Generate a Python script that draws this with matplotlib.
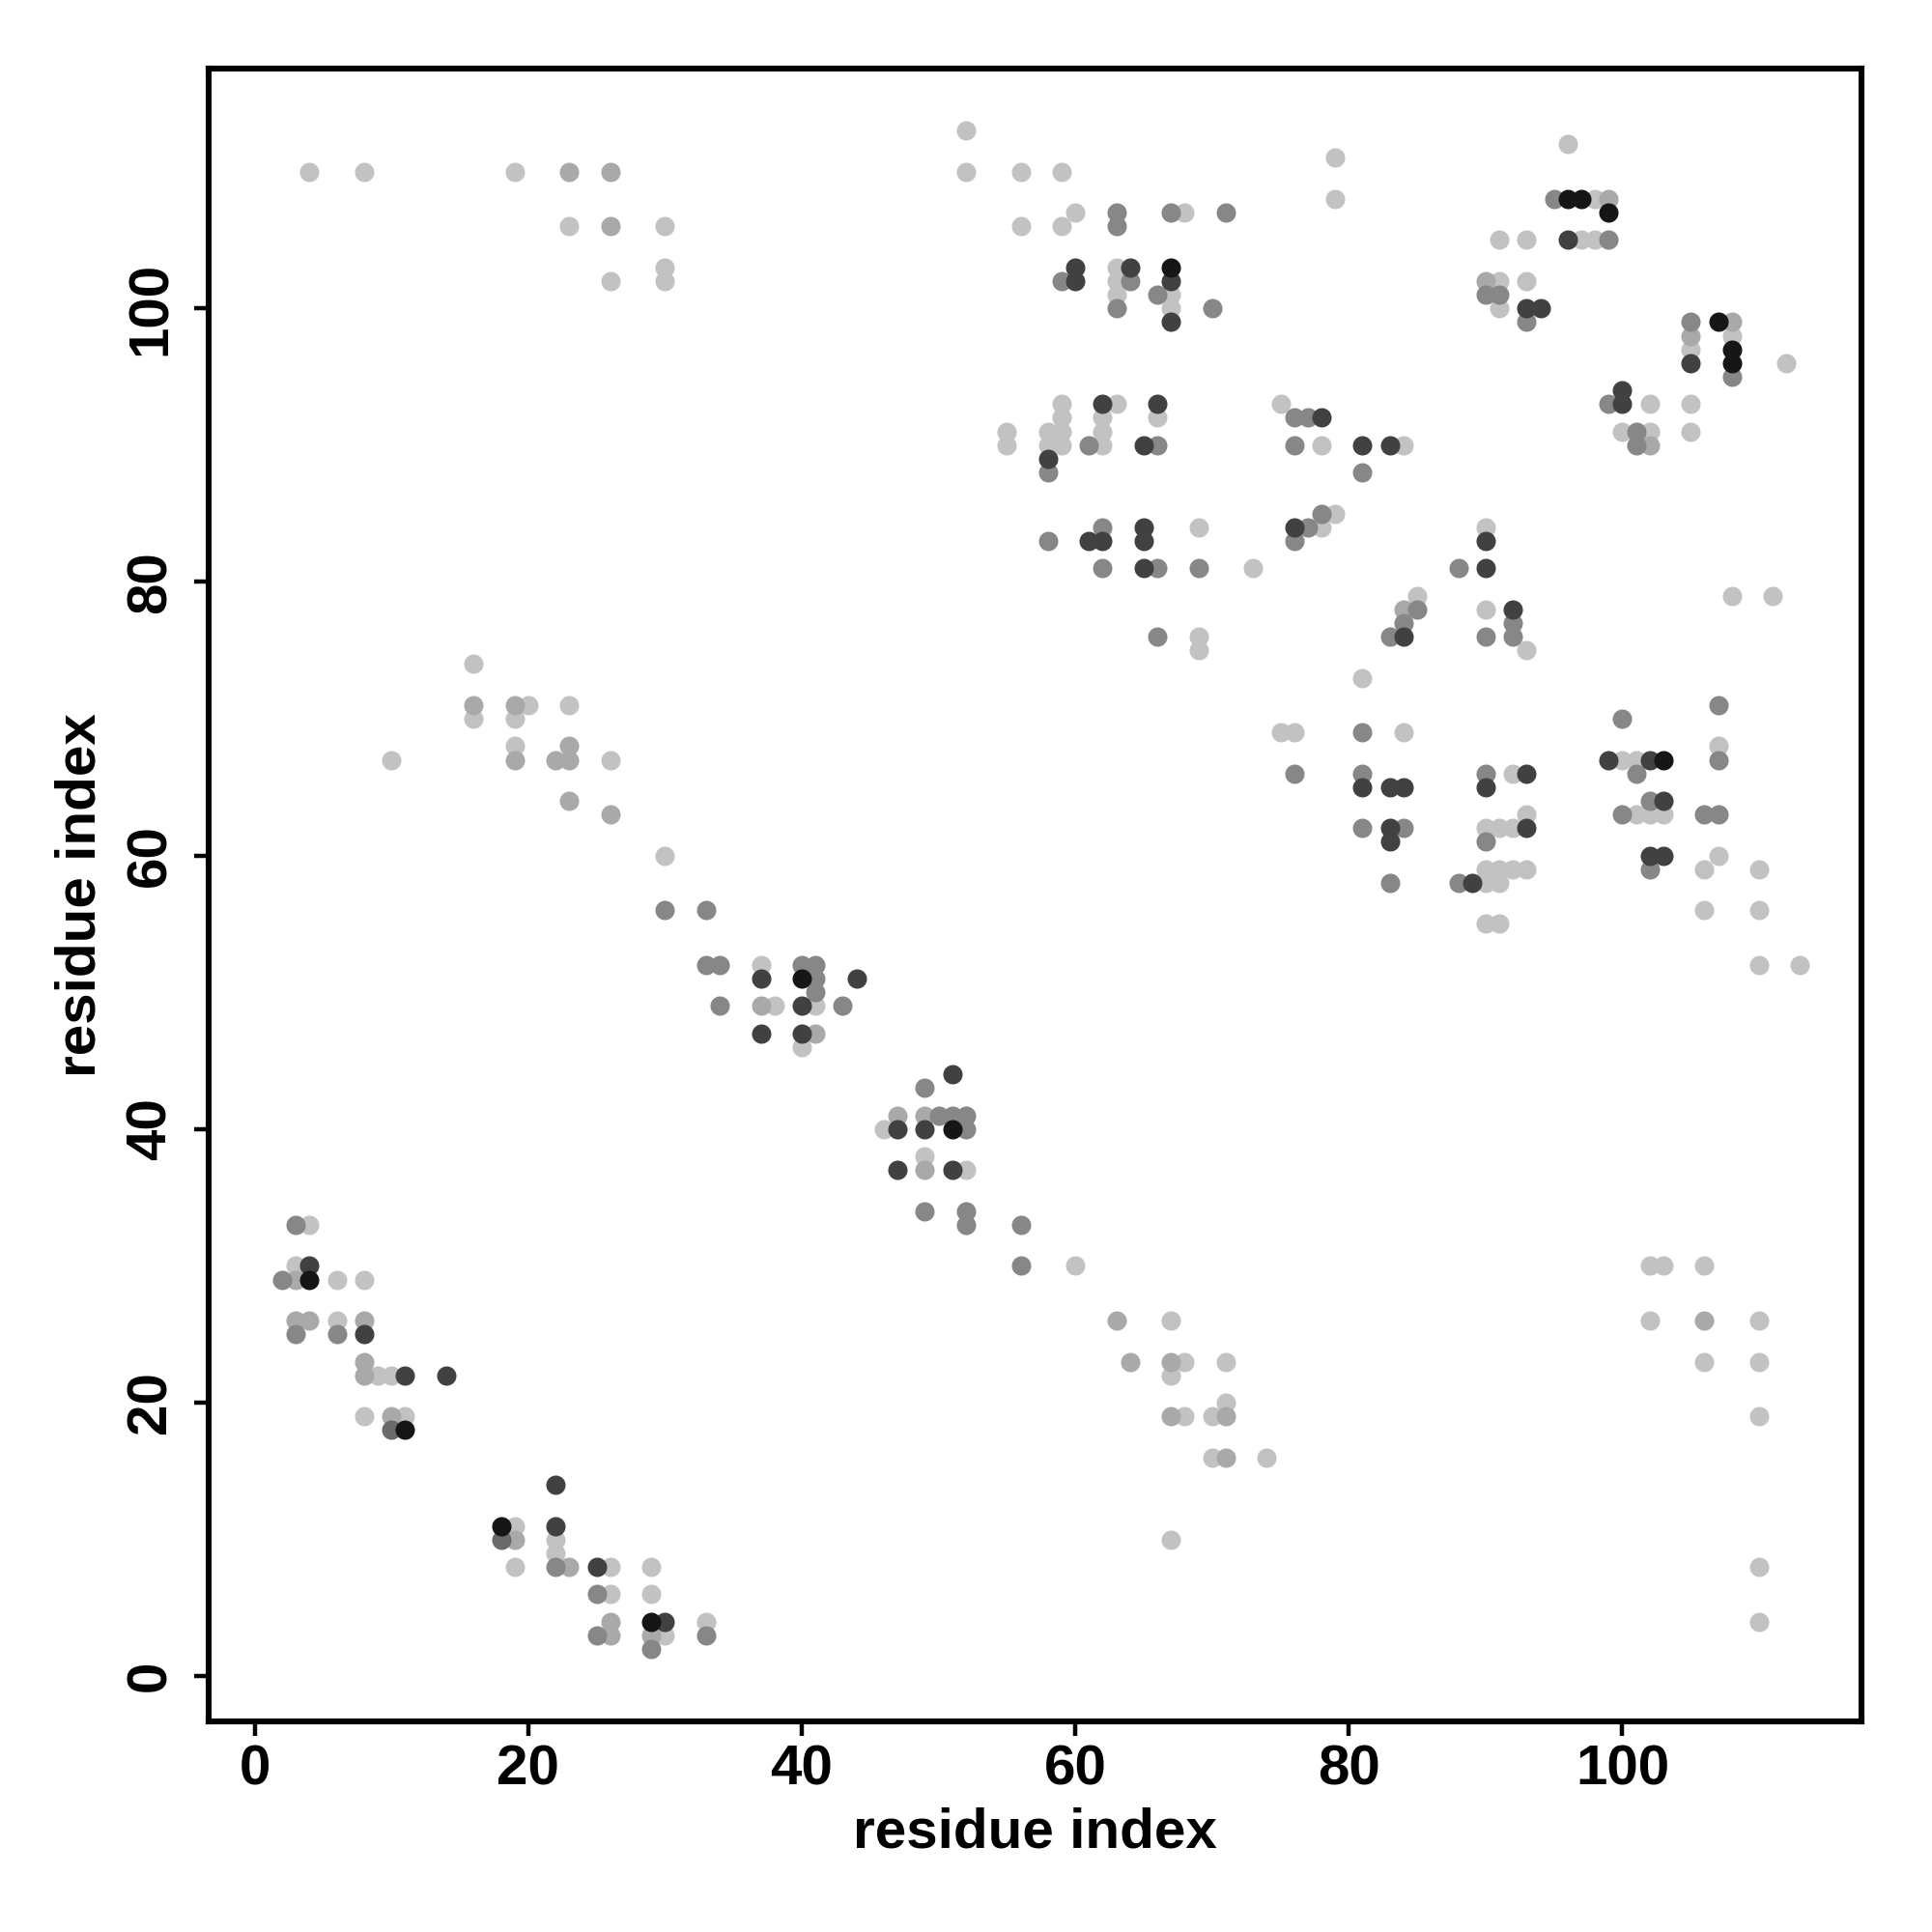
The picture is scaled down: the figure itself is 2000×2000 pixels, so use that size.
import matplotlib
matplotlib.use("Agg")
import matplotlib.pyplot as plt

# residue contacts, grouped by grey level (lightest first, darker drawn on top)
light_i = [4, 3, 6, 8, 6, 9, 10, 8, 11, 19, 22, 22, 19, 26, 29, 26, 29, 33, 30,
           37, 38, 41, 40, 46, 49, 52, 60,
           16, 16, 20, 19, 23, 19, 26, 30, 10,
           4, 8, 19, 23, 30, 30, 26, 30,
           52, 52, 56, 59, 60, 68, 56, 59, 63, 63, 63, 67, 67,
           59, 63, 75, 59, 62, 66, 55, 58, 59, 62, 55, 58, 59, 62, 78, 69, 78, 73, 69, 69,
           84, 79, 90, 85, 90, 93, 81,
           96, 79, 79, 98, 91, 93, 97, 98, 91, 93, 91,
           105, 108, 112, 102, 105, 100, 102, 105, 108, 111,
           75, 76, 84, 92, 93, 90, 91, 92, 90, 91, 92, 93, 90, 91, 90, 91,
           107, 100, 101, 101, 102, 103, 107, 106, 110, 106, 110, 110, 113,
           67, 68, 71, 67, 68, 70, 71, 70, 74, 67,
           102, 103, 106, 102, 110, 106, 110, 110, 110, 110]
light_j = [33, 30, 29, 29, 26, 22, 22, 19, 19, 11, 10, 9, 8, 8, 8, 6, 6, 4, 3,
           52, 49, 49, 46, 40, 38, 37, 30,
           74, 70, 71, 70, 71, 68, 67, 60, 67,
           110, 110, 110, 106, 106, 103, 102, 102,
           113, 110, 110, 110, 107, 107, 106, 106, 103, 102, 101, 101, 100,
           93, 93, 93, 92, 92, 92, 91, 91, 91, 91, 90, 90, 90, 90, 90, 84, 84, 81, 76, 75,
           90, 85, 84, 79, 78, 75, 73,
           112, 111, 108, 108, 105, 105, 105, 105, 102, 102, 100,
           97, 98, 96, 93, 93, 91, 91, 91, 79, 79,
           69, 69, 69, 66, 63, 62, 62, 62, 59, 59, 59, 59, 58, 58, 55, 55,
           68, 67, 67, 63, 63, 63, 60, 59, 59, 56, 56, 52, 52,
           26, 23, 23, 22, 19, 19, 20, 16, 16, 10,
           30, 30, 30, 26, 26, 23, 23, 19, 8, 4]

pale_i = [3, 3, 4, 8, 8, 8, 10, 19, 23, 26, 26, 29,
          37, 41, 47, 49, 49,
          16, 19, 19, 23, 22, 23, 23, 26,
          23, 26, 26,
          84, 99, 90, 105, 108, 102,
          63, 64, 67, 67, 71, 71, 106]
pale_j = [29, 26, 26, 26, 23, 22, 19, 10, 8, 4, 3, 3,
          49, 47, 41, 41, 37,
          71, 71, 67, 68, 67, 67, 64, 63,
          110, 110, 106,
          78, 108, 102, 98, 99, 90,
          26, 23, 23, 19, 19, 16, 26]

mid_i = [3, 2, 3, 6, 22, 25, 25, 33, 29,
         33, 34, 40, 41, 41, 41, 34, 43, 49, 50, 51, 52, 52, 49, 52, 52, 56, 56,
         30, 33,
         63, 67, 71, 63, 59, 64, 66, 63, 70,
         76, 77, 61, 66, 76, 58, 62, 77, 58, 76, 62, 66, 69, 66,
         81, 78, 88, 85, 84, 83, 92, 90, 92,
         95, 99, 90, 91, 93,
         105, 108, 99, 101, 101,
         81, 76, 81, 90, 81, 84, 90, 83, 88,
         107, 100, 107, 101, 102, 100, 106, 107, 102]
mid_j = [33, 29, 25, 25, 8, 6, 3, 3, 2,
         52, 52, 52, 52, 51, 50, 49, 49, 43, 41, 41, 41, 40, 34, 34, 33, 33, 30,
         56, 56,
         107, 107, 107, 106, 102, 102, 101, 100, 100,
         92, 92, 90, 90, 90, 88, 84, 84, 83, 83, 81, 81, 81, 76,
         88, 85, 81, 78, 77, 76, 77, 76, 76,
         108, 105, 101, 101, 99,
         99, 95, 93, 91, 90,
         69, 66, 66, 66, 62, 62, 61, 58, 58,
         71, 70, 67, 66, 64, 63, 63, 63, 59]

dim_i = [10, 18]
dim_j = [18, 10]

dark_i = [4, 8, 11, 14, 22, 22, 25, 30,
          37, 44, 40, 37, 40, 51, 47, 49, 47, 51,
          60, 64, 60, 67, 67,
          62, 66, 78, 65, 58, 65, 76, 61, 62, 65, 65,
          81, 83, 90, 90, 84, 92,
          96, 93, 94,
          105, 100, 100,
          81, 83, 84, 90, 93, 83, 83, 93, 89,
          99, 102, 103, 102, 103]
dark_j = [30, 25, 22, 22, 14, 11, 8, 4,
          51, 51, 49, 47, 47, 44, 40, 40, 37, 37,
          103, 103, 102, 102, 99,
          93, 93, 92, 90, 89, 84, 84, 83, 83, 83, 81,
          90, 90, 81, 83, 76, 78,
          105, 100, 100,
          96, 94, 93,
          65, 65, 65, 65, 66, 62, 61, 62, 58,
          67, 67, 64, 60, 60]

black_i = [4, 11, 18, 29, 40, 51, 67, 96, 97, 99, 107, 108, 108, 103]
black_j = [29, 18, 11, 4, 51, 40, 103, 108, 108, 107, 99, 97, 96, 67]

groups = [
    (light_i, light_j, "#c2c2c2"),
    (pale_i, pale_j, "#a9a9a9"),
    (mid_i, mid_j, "#878787"),
    (dim_i, dim_j, "#6a6a6a"),
    (dark_i, dark_j, "#414141"),
    (black_i, black_j, "#161616"),
]

plt.rcParams["font.family"] = ["Liberation Sans", "DejaVu Sans"]
plt.rcParams["font.weight"] = "bold"

fig = plt.figure(figsize=(10, 10), dpi=200)
ax = fig.add_axes([0.1078, 0.109, 0.8558, 0.8553])

for xs, ys, col in groups:
    ax.scatter(xs, ys, s=52, c=col, linewidths=0, zorder=2)

ax.set_xlim(-3.4, 117.5)
ax.set_ylim(-3.3, 117.5)
ax.set_xticks([0, 20, 40, 60, 80, 100])
ax.set_yticks([0, 20, 40, 60, 80, 100])

for sp in ax.spines.values():
    sp.set_linewidth(2.2)

ax.tick_params(axis="both", direction="out", length=5.5, width=1.6,
               labelsize=21)
ax.tick_params(axis="x", pad=3)
ax.tick_params(axis="y", pad=6)
for lab in ax.get_yticklabels():
    lab.set_rotation(90)
    lab.set_va("center")
    lab.set_fontweight("bold")
for lab in ax.get_xticklabels():
    lab.set_fontweight("bold")

ax.set_xlabel("residue index", fontsize=21, fontweight="bold", labelpad=4)
ax.set_ylabel("residue index", fontsize=21, fontweight="bold", labelpad=7)

fig.savefig("out.png", dpi=200, facecolor="white")
